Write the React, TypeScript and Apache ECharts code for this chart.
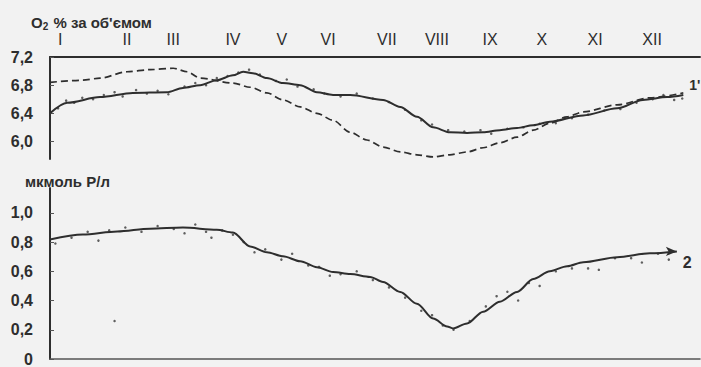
import { useEffect, useRef } from "react";
import * as echarts from "echarts";

// Month labels (top axis) and their positions in month units
const monthLabels = ["I", "II", "III", "IV", "V", "VI", "VII", "VIII", "IX", "X", "XI", "XII"];
const monthPos = [0.19, 1.43, 2.29, 3.4, 4.31, 5.17, 6.26, 7.19, 8.18, 9.14, 10.13, 11.19];

// Top panel: O2 % by volume
const topTicks = [6.0, 6.4, 6.8, 7.2];
const o2SolidX = [0, 0.32, 0.93, 1.54, 2.17, 2.47, 2.79, 3.1, 3.4, 3.59, 3.77, 4.03, 4.33, 4.65, 4.96, 5.26, 5.58, 6.19, 6.51, 6.82, 7.12, 7.43, 7.75, 8.05, 8.36, 8.68, 8.98, 9.29, 9.91, 10.54, 11.02, 11.47, 11.77];
const o2SolidY = [6.4, 6.55, 6.63, 6.69, 6.7, 6.76, 6.8, 6.87, 6.94, 6.99, 6.97, 6.9, 6.83, 6.8, 6.7, 6.66, 6.66, 6.59, 6.49, 6.35, 6.2, 6.13, 6.12, 6.13, 6.16, 6.19, 6.23, 6.28, 6.37, 6.47, 6.59, 6.63, 6.66];
const o2DashX = [0, 0.61, 0.93, 1.43, 1.86, 2.29, 2.55, 2.79, 3.4, 3.72, 4.03, 4.33, 4.65, 4.96, 5.26, 5.58, 5.89, 6.19, 6.51, 6.82, 7.12, 7.43, 7.75, 8.05, 8.36, 8.68, 8.98, 9.29, 9.61, 9.91, 10.54, 11.15, 11.77];
const o2DashY = [6.84, 6.87, 6.9, 6.99, 7.02, 7.04, 6.99, 6.9, 6.83, 6.77, 6.69, 6.59, 6.49, 6.4, 6.3, 6.13, 6.02, 5.92, 5.85, 5.81, 5.78, 5.81, 5.85, 5.91, 5.98, 6.06, 6.16, 6.26, 6.35, 6.42, 6.52, 6.62, 6.69];
const o2ObsX = [0.15, 0.3, 0.45, 0.6, 0.8, 1.0, 1.2, 1.35, 1.6, 1.8, 2.0, 2.2, 2.5, 2.7, 2.9, 3.1, 3.3, 3.5, 3.7, 3.9, 4.2, 4.4, 4.6, 4.9, 5.1, 5.4, 5.7, 6.0, 6.3, 6.6, 6.9, 7.1, 7.4, 7.7, 8.0, 8.2, 8.5, 8.8, 9.1, 9.4, 9.7, 10.0, 10.3, 10.6, 10.9, 11.2, 11.4, 11.6, 11.75];
const o2ObsY = [6.47, 6.58, 6.55, 6.62, 6.6, 6.66, 6.7, 6.64, 6.73, 6.68, 6.72, 6.67, 6.78, 6.83, 6.8, 6.9, 6.93, 6.98, 7.02, 6.95, 6.86, 6.88, 6.78, 6.74, 6.68, 6.64, 6.68, 6.61, 6.56, 6.45, 6.3, 6.24, 6.16, 6.14, 6.16, 6.11, 6.18, 6.2, 6.25, 6.26, 6.33, 6.38, 6.44, 6.46, 6.55, 6.6, 6.66, 6.59, 6.61];

// Bottom panel: µmol P/l
const botTicks = [0, 0.2, 0.4, 0.6, 0.8, 1.0];
const pX = [0, 0.61, 1.25, 1.86, 2.47, 3.1, 3.4, 3.72, 4.03, 4.33, 4.65, 4.96, 5.26, 5.58, 5.95, 6.19, 6.51, 6.82, 7.12, 7.38, 7.49, 7.75, 8.05, 8.36, 8.68, 8.98, 9.29, 9.61, 9.91, 10.54, 11.15, 11.65];
const pY = [0.818, 0.851, 0.872, 0.892, 0.899, 0.885, 0.865, 0.77, 0.73, 0.703, 0.669, 0.628, 0.595, 0.581, 0.561, 0.527, 0.459, 0.378, 0.277, 0.223, 0.209, 0.243, 0.324, 0.392, 0.459, 0.547, 0.601, 0.635, 0.662, 0.696, 0.723, 0.736];
const pObsX = [0.1, 0.4, 0.7, 0.9, 1.1, 1.2, 1.4, 1.7, 2.0, 2.3, 2.5, 2.7, 2.9, 3.0, 3.2, 3.4, 3.6, 3.8, 4.0, 4.3, 4.5, 4.8, 5.0, 5.2, 5.4, 5.7, 6.0, 6.3, 6.6, 6.9, 7.1, 7.3, 7.5, 7.8, 8.1, 8.3, 8.5, 8.7, 8.9, 9.1, 9.4, 9.7, 10.0, 10.2, 10.5, 10.8, 11.0, 11.3, 11.5];
const pObsY = [0.79, 0.83, 0.87, 0.81, 0.88, 0.26, 0.9, 0.87, 0.91, 0.89, 0.86, 0.92, 0.87, 0.83, 0.88, 0.85, 0.8, 0.73, 0.75, 0.68, 0.72, 0.64, 0.63, 0.57, 0.58, 0.6, 0.54, 0.49, 0.42, 0.33, 0.3, 0.23, 0.2, 0.26, 0.36, 0.43, 0.46, 0.4, 0.52, 0.5, 0.6, 0.62, 0.62, 0.61, 0.69, 0.69, 0.66, 0.72, 0.68];

const zip = (xs: number[], ys: number[]) => xs.map((x, i) => [x, ys[i]]);
const comma = (v: number) => (v === 0 ? "0" : v.toFixed(1).replace(".", ","));

const INK = "#2e2e2e";
const FONT = "Liberation Sans, Arial, sans-serif";

export default function App() {
  const ref = useRef<HTMLDivElement>(null);
  useEffect(() => {
    if (!ref.current) return;
    const chart = echarts.init(ref.current, null, { renderer: "svg" });
    const xMax = 12.08;
    const lastP = pX.length - 1;
    const pData: any[] = zip(pX, pY).map((d, i) =>
      i === lastP
        ? { value: d, symbol: "arrow", symbolSize: [7, 11], symbolRotate: -90, itemStyle: { color: INK } }
        : { value: d, symbol: "none" }
    );
    const lineCommon = { smooth: 0.3, smoothMonotone: "x" };
    chart.setOption({
      animation: false,
      backgroundColor: "#f2f2f2",
      textStyle: { fontFamily: FONT },
      title: [
        {
          left: 26,
          top: 7,
          text: "{a|O}{s|2}{a| % за об'ємом}",
          textStyle: {
            rich: {
              a: { fontSize: 15, fontWeight: "bold", color: INK, fontFamily: FONT, lineHeight: 20 },
              s: { fontSize: 10, fontWeight: "bold", color: INK, fontFamily: FONT, lineHeight: 20, padding: [9, 1, 0, 0] },
            },
          },
        },
        {
          left: 20,
          top: 169,
          text: "мкмоль P/л",
          textStyle: { fontSize: 15, fontWeight: "bold", color: INK, fontFamily: FONT },
        },
      ],
      grid: [
        { left: 50, right: 1, top: 57, height: 102 },
        { left: 50, right: 1, top: 188, bottom: 5 },
      ],
      xAxis: [
        {
          gridIndex: 0,
          type: "value",
          position: "top",
          min: 0,
          max: xMax,
          axisLine: { show: true, lineStyle: { color: INK, width: 2 } },
          axisTick: { show: false },
          splitLine: { show: false },
          axisLabel: {
            customValues: monthPos,
            margin: 10,
            fontSize: 16,
            color: INK,
            fontFamily: FONT,
            formatter: (v: number) => {
              let best = 0;
              monthPos.forEach((p, i) => {
                if (Math.abs(p - v) < Math.abs(monthPos[best] - v)) best = i;
              });
              return monthLabels[best];
            },
          },
        },
        {
          gridIndex: 1,
          type: "value",
          position: "bottom",
          min: 0,
          max: xMax,
          axisLine: { show: true, lineStyle: { color: "#555", width: 1.5 } },
          axisTick: { show: false },
          axisLabel: { show: false },
          splitLine: { show: false },
        },
      ],
      yAxis: [
        {
          gridIndex: 0,
          type: "value",
          min: 5.75,
          max: 7.2,
          axisLine: { show: true, lineStyle: { color: INK, width: 2 } },
          axisTick: { show: true, inside: true, length: 4, customValues: topTicks, lineStyle: { color: "#555" } },
          splitLine: { show: false },
          axisLabel: {
            customValues: topTicks,
            margin: 17,
            fontSize: 16,
            fontWeight: "bold",
            color: INK,
            fontFamily: FONT,
            formatter: comma,
          },
        },
        {
          gridIndex: 1,
          type: "value",
          min: 0,
          max: 1.17,
          axisLine: { show: true, lineStyle: { color: INK, width: 2 } },
          axisTick: { show: true, inside: true, length: 4, customValues: botTicks, lineStyle: { color: "#555" } },
          splitLine: { show: false },
          axisLabel: {
            customValues: botTicks,
            margin: 17,
            fontSize: 16,
            fontWeight: "bold",
            color: INK,
            fontFamily: FONT,
            formatter: comma,
          },
        },
      ],
      series: [
        {
          type: "line",
          xAxisIndex: 0,
          yAxisIndex: 0,
          data: zip(o2DashX, o2DashY),
          ...lineCommon,
          symbol: "none",
          lineStyle: { color: INK, width: 1.7, type: [7, 4] },
        },
        {
          type: "line",
          xAxisIndex: 0,
          yAxisIndex: 0,
          data: zip(o2SolidX, o2SolidY),
          ...lineCommon,
          symbol: "none",
          lineStyle: { color: INK, width: 2 },
          endLabel: {
            show: true,
            formatter: "1'",
            fontSize: 14,
            fontWeight: "bold",
            color: INK,
            fontFamily: FONT,
            offset: [-2, -10],
          },
        },
        {
          type: "scatter",
          xAxisIndex: 0,
          yAxisIndex: 0,
          data: zip(o2ObsX, o2ObsY),
          symbolSize: 2.5,
          itemStyle: { color: "#3a3a3a" },
        },
        {
          type: "line",
          xAxisIndex: 1,
          yAxisIndex: 1,
          data: pData,
          ...lineCommon,
          showSymbol: true,
          symbol: "none",
          lineStyle: { color: INK, width: 2 },
          endLabel: {
            show: true,
            formatter: "2",
            fontSize: 16,
            fontWeight: "bold",
            color: INK,
            fontFamily: FONT,
            offset: [-2, 11],
          },
        },
        {
          type: "scatter",
          xAxisIndex: 1,
          yAxisIndex: 1,
          data: zip(pObsX, pObsY),
          symbolSize: 2.5,
          itemStyle: { color: "#3a3a3a" },
        },
      ],
    });
    return () => chart.dispose();
  }, []);
  return (
    <div
      ref={ref}
      style={{ position: "fixed", left: 0, top: 0, width: 701, height: 367 }}
    />
  );
}
